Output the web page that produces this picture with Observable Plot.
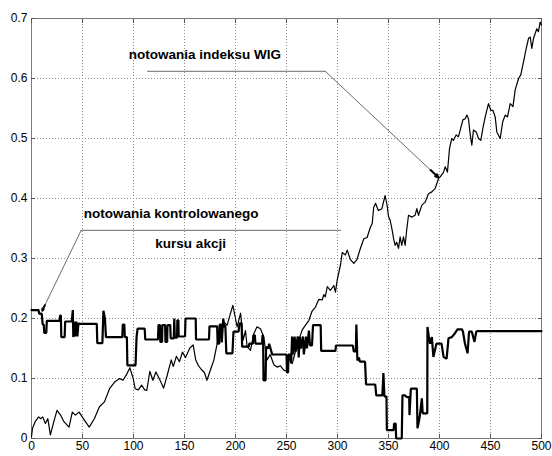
<!DOCTYPE html>
<html><head><meta charset="utf-8">
<script src="https://cdn.jsdelivr.net/npm/d3@7"></script>
<script src="https://cdn.jsdelivr.net/npm/@observablehq/plot@0.6"></script>
<style>
html,body{margin:0;padding:0;background:#fff;}
#chart svg{display:block;}
</style></head><body><div id="chart"></div>
<script>
// WIG index (thin line)
const wigX = [0,1,3.6,7,9,11,13.6,16,18.5,21.9,25,28.5,31.8,36.8,40,43,46.7,51.7,56.6,61.6,66.6,71.5,76.5,81.5,86.4,89.7,93,96.4,99.7,101.6,104.7,108,111,113,116,119,122,126,129.5,133,137,139,142,145,148,151,155,158.5,161,163.5,166.5,169.5,172,175,178.8,182,183.7,185.3,188.6,191.8,195,197.4,200,201.6,205,207.5,209.8,211.4,214.7,216,218,221,224.5,227.8,229.4,231,234,237.6,240.8,244,247.4,250.6,252.3,255.6,258.8,262,265.4,268.6,272,275,278.4,281.7,285,286.6,288,290,293,296.4,298,299.7,303,304.6,307.8,309.5,312.7,316,319,322.5,325.8,329,332.4,334,335.5,337.3,340,343.5,346.7,348.5,350,351.6,353.3,355,356.5,358,359.8,361.4,363,364.7,366.3,368,369.6,373,376,377.8,379.4,382.7,386,389.2,392.5,395.8,399,400.7,404,405.6,407.8,409.8,412,413.7,416.3,418.6,420.3,422.9,425.2,426.8,428.4,430,431.7,433.3,436,438.2,440.5,442.5,444.8,448,450.3,452.3,454.6,456.2,459.5,462,464.4,466.7,469.3,472,474.2,477.5,479.7,482.4,485,487.3,489,490.5,492.2,493.8,495.4,497,498.7,500];
const wigY = [0.003,0.017,0.028,0.036,0.033,0.036,0.025,0.033,0.006,0.028,0.047,0.039,0.028,0.019,0.044,0.039,0.044,0.031,0.019,0.033,0.053,0.061,0.083,0.094,0.1,0.097,0.106,0.118,0.1,0.083,0.081,0.089,0.081,0.08,0.112,0.097,0.111,0.097,0.084,0.105,0.131,0.12,0.137,0.128,0.144,0.135,0.15,0.156,0.131,0.122,0.115,0.11,0.097,0.112,0.131,0.158,0.169,0.186,0.194,0.189,0.208,0.222,0.2,0.186,0.209,0.164,0.18,0.153,0.147,0.158,0.175,0.186,0.183,0.169,0.147,0.131,0.14,0.123,0.119,0.121,0.114,0.112,0.133,0.125,0.145,0.164,0.181,0.189,0.197,0.212,0.219,0.232,0.231,0.24,0.236,0.253,0.247,0.255,0.244,0.264,0.29,0.31,0.306,0.314,0.298,0.292,0.298,0.317,0.333,0.335,0.353,0.358,0.385,0.392,0.38,0.383,0.405,0.39,0.37,0.364,0.35,0.333,0.322,0.327,0.317,0.336,0.322,0.336,0.322,0.35,0.372,0.369,0.372,0.383,0.372,0.389,0.394,0.408,0.411,0.417,0.433,0.436,0.444,0.453,0.444,0.483,0.5,0.497,0.506,0.503,0.514,0.531,0.533,0.539,0.533,0.508,0.489,0.514,0.511,0.5,0.497,0.517,0.536,0.558,0.547,0.547,0.536,0.511,0.5,0.528,0.539,0.536,0.558,0.553,0.581,0.6,0.606,0.628,0.65,0.667,0.669,0.65,0.667,0.675,0.683,0.678,0.694,0.689];

// controlled share price (thick line)
const kursX = [0,7,7.5,10,11,12,12.5,14.5,15,27.5,28,28.8,29.2,32.5,33,39.5,40.5,41,42,43,44,45,46,47,64,64.5,69.5,70.5,72,73,89,89.5,91,91.5,93.5,94,102,103,104,111,111.5,124,124.5,126,126.3,128,128.3,131,131.3,133,133.3,136,136.5,139.5,140,140.5,142.7,143,144,144.3,150.5,151,161,161.3,174,174.5,182,182.5,184,184.5,186,186.5,188,189,190,191,197,198,203,204,206,206.5,213,213.5,217,217.5,219,219.5,226,226.5,227,227.5,229.5,230,232,233,236,250,250.5,251.5,252,254,254.5,255.5,256.5,258,259,261,262,263,264,266,267,269,270,272,273,275,276,283.5,284,298,298.5,315,316,318,318.5,319.5,321,322,327,328,337,338,344,345,346,348,348.4,355,355.5,357,357.5,363,363.7,366,368,370.3,370.6,371.9,377.8,378.4,380,381,382.7,383.5,388,388.2,389.5,390.8,392.5,394,397,402,404,407,408.8,412,415,417.6,422,423,425,427.5,429,431.7,434.3,436,437,500];
const kursY = [0.214,0.214,0.208,0.208,0.19,0.19,0.176,0.176,0.196,0.196,0.205,0.205,0.169,0.169,0.195,0.195,0.214,0.169,0.195,0.17,0.195,0.17,0.192,0.191,0.191,0.159,0.159,0.213,0.2,0.169,0.169,0.19,0.19,0.169,0.169,0.122,0.122,0.169,0.183,0.183,0.165,0.165,0.189,0.189,0.161,0.161,0.189,0.189,0.161,0.161,0.189,0.189,0.167,0.167,0.2,0.168,0.168,0.197,0.197,0.17,0.17,0.2,0.2,0.165,0.165,0.187,0.187,0.158,0.158,0.19,0.19,0.16,0.2,0.185,0.19,0.142,0.142,0.178,0.178,0.192,0.192,0.153,0.153,0.158,0.158,0.172,0.172,0.158,0.158,0.172,0.172,0.097,0.097,0.153,0.15,0.158,0.14,0.14,0.11,0.11,0.14,0.14,0.125,0.17,0.14,0.17,0.145,0.17,0.135,0.17,0.15,0.17,0.14,0.17,0.15,0.18,0.155,0.155,0.189,0.189,0.146,0.146,0.155,0.155,0.145,0.145,0.19,0.13,0.135,0.128,0.128,0.09,0.09,0.072,0.072,0.109,0.07,0.07,0.014,0.014,0.025,0.025,0,0,0.072,0.072,0.069,0.069,0.039,0.083,0.083,0.017,0.03,0.042,0.067,0.042,0.042,0.186,0.17,0.158,0.169,0.136,0.158,0.158,0.136,0.133,0.167,0.169,0.175,0.182,0.182,0.178,0.158,0.142,0.178,0.178,0.161,0.178,0.179,0.179];

const xTicks = [0,50,100,150,200,250,300,350,400,450,500];
const yTicks = [0,0.1,0.2,0.3,0.4,0.5,0.6,0.7];
const yTickLabels = ["0","0.1","0.2","0.3","0.4","0.5","0.6","0.7"];

const labelTexts = ["notowania indeksu WIG","notowania kontrolowanego","kursu akcji"];
const labelX = [170, 137, 156];
const labelY = [0.64, 0.375, 0.325];

const wigLeaderX = [113.7, 288];
const wigLeaderY = [0.612, 0.612];
const wigArrow = {x1: 288, y1: 0.612, x2: 399, y2: 0.435};
const kursLeaderX = [48.7, 303];
const kursLeaderY = [0.347, 0.347];
const kursArrow = {x1: 48.7, y1: 0.347, x2: 10.5, y2: 0.213};

const wig = wigX.map((x, i) => ({x, y: wigY[i]}));
const kurs = kursX.map((x, i) => ({x, y: kursY[i]}));
const labels = labelTexts.map((t, i) => ({t, x: labelX[i], y: labelY[i]}));
const wigLeader = wigLeaderX.map((x, i) => ({x, y: wigLeaderY[i]}));
const kursLeader = kursLeaderX.map((x, i) => ({x, y: kursLeaderY[i]}));
const arrows = [wigArrow, kursArrow];
// short black segment near each tip, carrying the filled-looking head
const heads = arrows.map(a => ({
  x1: a.x1 + 0.93 * (a.x2 - a.x1), y1: a.y1 + 0.93 * (a.y2 - a.y1), x2: a.x2, y2: a.y2
}));

const gridStyle = {stroke: "#8c8c8c", strokeOpacity: 1, strokeDasharray: "1,2", strokeWidth: 1};
const leaderColor = "#6a6a6a";

const chart = Plot.plot({
  width: 552, height: 456,
  marginTop: 18, marginRight: 11, marginBottom: 18, marginLeft: 31,
  x: {domain: [0, 500], label: null},
  y: {domain: [0, 0.7], label: null},
  style: {fontFamily: "'Liberation Sans', Arial, sans-serif", fontSize: "12px", color: "#000", background: "#fff"},
  marks: [
    Plot.gridX(xTicks, gridStyle),
    Plot.gridY(yTicks, gridStyle),
    Plot.frame({stroke: "#7a7a7a"}),
    Plot.axisX(xTicks, {anchor: "bottom", tickSize: -4, tickPadding: 7, stroke: "#555", tickFormat: d => String(d), label: null}),
    Plot.axisX(xTicks, {anchor: "top", tickSize: -4, stroke: "#555", tickFormat: () => "", label: null}),
    Plot.axisY(yTicks, {anchor: "left", tickSize: -4, tickPadding: 8, stroke: "#555", tickFormat: (d, i) => yTickLabels[i], label: null}),
    Plot.axisY(yTicks, {anchor: "right", tickSize: -4, stroke: "#555", tickFormat: () => "", label: null}),
    Plot.line(wigLeader, {x: "x", y: "y", stroke: leaderColor, strokeWidth: 1}),
    Plot.line(kursLeader, {x: "x", y: "y", stroke: leaderColor, strokeWidth: 1}),
    Plot.arrow(arrows, {x1: "x1", y1: "y1", x2: "x2", y2: "y2", stroke: leaderColor, strokeWidth: 1, headLength: 0}),
    Plot.arrow(heads, {x1: "x1", y1: "y1", x2: "x2", y2: "y2", stroke: "#000", strokeWidth: 2, headLength: 6, headAngle: 45}),
    Plot.line(kurs, {x: "x", y: "y", stroke: "#000", strokeWidth: 2.2, strokeLinejoin: "miter"}),
    Plot.line(wig, {x: "x", y: "y", stroke: "#000", strokeWidth: 1.2}),
    Plot.text(labels, {x: "x", y: "y", text: "t", fontWeight: "bold", fontSize: 13.5, fill: "#000"})
  ]
});
document.getElementById("chart").appendChild(chart);
</script>
</body></html>
